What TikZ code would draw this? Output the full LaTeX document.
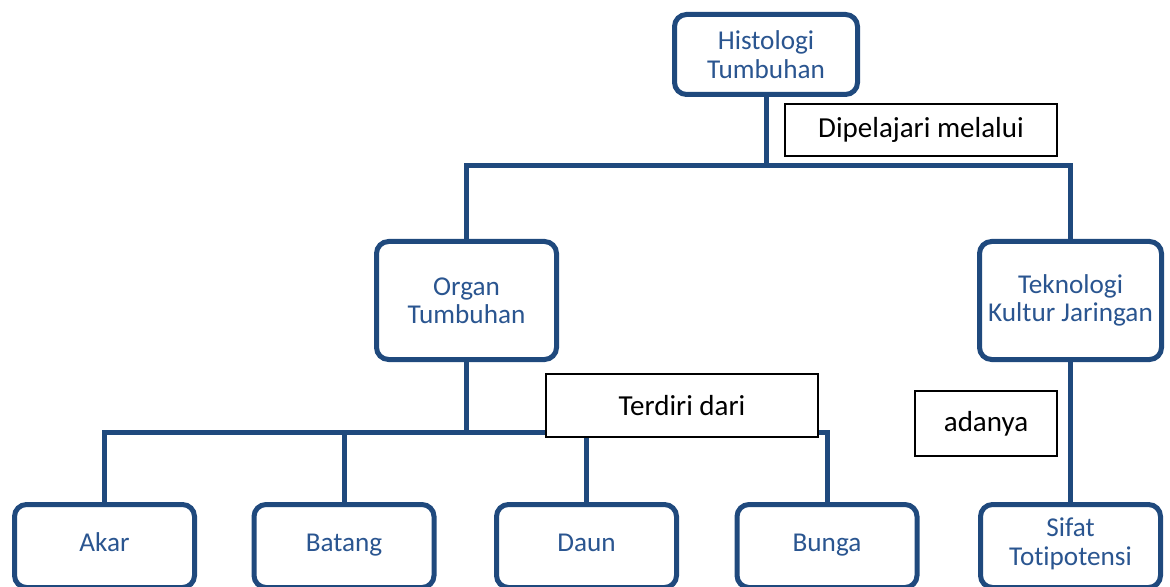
\documentclass[tikz,border=0pt]{standalone}
\usepackage{fontspec}
\setmainfont{Carlito}[RawFeature=-liga]
\usetikzlibrary{positioning, calc}
\definecolor{navy}{HTML}{1F497D}
\definecolor{navytext}{HTML}{2A5590}

\begin{document}
\begin{tikzpicture}[
  x=0.5pt, y=-0.5pt,
  topic/.style={draw=navy, line width=2.5pt, rounded corners=6pt, fill=white,
    text=navytext, font=\fontsize{13.6}{14.2}\selectfont, align=center, inner sep=0pt},
  relbox/.style={draw=black, line width=0.7pt, fill=white, text=black,
    font=\fontsize{14.5}{16}\selectfont, inner sep=0pt},
  link/.style={draw=navy, line width=2.5pt},
]

% Page frame
\useasboundingbox (0,0) rectangle (1170,587);
\clip (0,0) rectangle (1170,587);

% =============================================
% Top level
% =============================================
\node[topic, minimum width=91.5pt, minimum height=40pt] (hist) at (766,54.5)
  {Histologi\\Tumbuhan};

\node[topic, minimum width=90pt, minimum height=59pt] (organ) at (466.5,300.5)
  {Organ\\Tumbuhan};
\node[topic, minimum width=91pt, minimum height=59pt] (tek) at (1070.5,300.5)
  {Teknologi\\Kultur Jaringan};

% =============================================
% Bottom level
% =============================================
\foreach \x/\name/\lab in {104.5/akar/Akar, 344/batang/Batang, 586.5/daun/Daun,
    827/bunga/Bunga, 1070.5/sifat/Sifat\\Totipotensi} {
  \node[topic, minimum width=90pt, minimum height=41.5pt] (\name) at (\x,546) {\lab\strut};
}

% Connectors
\coordinate (j1) at (766,166);
\coordinate (j2) at (466.5,432);
\draw[link] (hist) -- (j1);
\draw[link] (organ.north) |- (j1) -| (tek.north);
\draw[link] (organ) -- (j2);
\draw[link] (akar.north) |- (j2) -| (bunga.north);
\foreach \name in {batang, daun} {
  \draw[link] (\name.north) -- (\name.north |- j2);
}
\draw[link] (tek) -- (sifat);

% Relation labels
\node[relbox, minimum width=136pt, minimum height=26pt] (dip) at (921,130)
  {Dipelajari melalui};
\node[relbox, minimum width=136pt, minimum height=31.5pt] (terdiri) at (682,405.5)
  {Terdiri dari};
\node[relbox, minimum width=71pt, minimum height=32.5pt] (adanya) at (986,423.5)
  {adanya};

\end{tikzpicture}
\end{document}
